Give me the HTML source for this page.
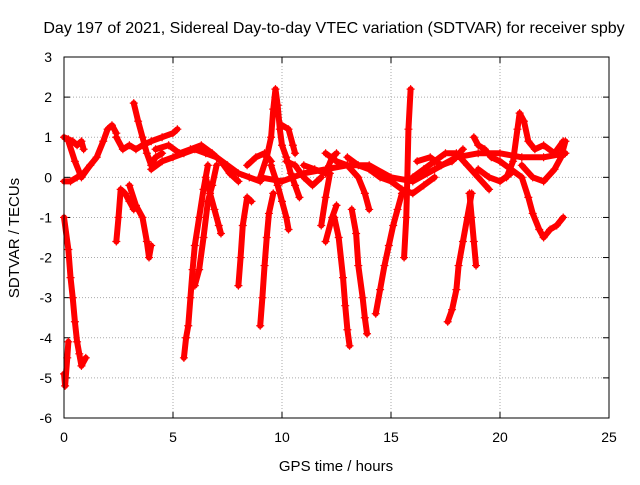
<!DOCTYPE html>
<html><head><meta charset="utf-8"><style>
body{margin:0;background:#fff}
svg text{font-family:"Liberation Sans",sans-serif;fill:#000}
</style></head><body>
<svg id="c" width="640" height="480">
<text x="334" y="33" font-size="16" text-anchor="middle">Day 197 of 2021, Sidereal Day-to-day VTEC variation (SDTVAR) for receiver spby</text>
<text x="336" y="471" font-size="15" text-anchor="middle">GPS time / hours</text>
<text transform="translate(19,238) rotate(-90)" font-size="15" text-anchor="middle">SDTVAR / TECUs</text>
<g id="grid"></g><g id="marks"></g>
<rect x="64" y="57" width="545" height="361" fill="none" stroke="#000"/>
</svg>
<script>
const xTicks=[0,5,10,15,20,25];
const yTicks=[3,2,1,0,-1,-2,-3,-4,-5,-6];
const tracks=[
[[0,-1.0],[0.2,-1.8],[0.3,-2.5],[0.4,-3.0],[0.5,-3.6],[0.6,-4.1],[0.7,-4.4],[0.8,-4.7],[1.0,-4.5]],
[[0,-4.9],[0.05,-5.2],[0.15,-4.5],[0.2,-4.1]],
[[0,1.0],[0.2,0.95],[0.4,0.9],[0.6,0.8],[0.8,0.9],[0.9,0.7]],
[[0,-0.1],[0.3,-0.1],[0.6,0.0],[0.9,0.1],[1.2,0.3],[1.5,0.5],[1.8,0.9],[2.0,1.2],[2.2,1.3],[2.4,1.1]],
[[0.2,0.9],[0.5,0.4],[0.8,0.0],[1.2,0.3]],
[[2.4,-1.6],[2.5,-1.0],[2.6,-0.3],[2.8,-0.4],[3.0,-0.6],[3.2,-0.8]],
[[2.4,1.0],[2.7,0.7],[3.0,0.8],[3.3,0.7],[3.6,0.8],[4.0,0.9],[4.5,1.0],[5.0,1.1],[5.2,1.2]],
[[3.2,1.85],[3.4,1.4],[3.6,1.0],[3.8,0.6],[4.0,0.3],[4.2,0.5],[4.5,0.6]],
[[3.0,-0.2],[3.3,-0.7],[3.6,-1.0],[3.8,-1.6],[3.9,-2.0],[4.0,-1.7]],
[[4.0,0.2],[4.5,0.4],[5,0.5],[5.5,0.6],[6,0.7],[6.5,0.6],[7,0.5],[7.5,0.3],[8,0.1],[8.5,0.0],[9,-0.1]],
[[4.2,0.7],[4.8,0.8],[5.3,0.6],[5.8,0.7],[6.3,0.8],[6.8,0.6],[7.2,0.4],[7.6,0.1],[8.0,-0.1]],
[[5.5,-4.5],[5.6,-4.0],[5.7,-3.7],[5.8,-3.0],[5.9,-2.3],[6.0,-1.7],[6.2,-1.0],[6.4,-0.3],[6.6,0.3]],
[[6.0,-2.7],[6.2,-2.3],[6.4,-1.5],[6.6,-0.6],[6.8,-0.2],[7.0,0.3]],
[[6.5,0.0],[6.7,-0.4],[6.9,-0.8],[7.1,-1.2],[7.2,-1.4]],
[[8.0,-2.7],[8.1,-2.0],[8.2,-1.2],[8.4,-0.5],[8.6,-0.6]],
[[8.4,0.3],[8.8,0.5],[9.2,0.6],[9.5,0.4]],
[[9.0,-3.7],[9.1,-3.0],[9.2,-2.2],[9.3,-1.5],[9.4,-0.9],[9.6,-0.4]],
[[9.0,0.0],[9.3,0.5],[9.5,1.0],[9.6,1.7],[9.7,2.2],[9.8,1.8],[9.9,1.2],[10.0,0.8],[10.2,0.5],[10.4,0.1],[10.6,-0.2],[10.8,-0.5]],
[[9.5,0.3],[9.8,-0.2],[10.0,-0.6],[10.2,-1.0],[10.3,-1.3]],
[[10,1.3],[10.3,1.2],[10.5,0.8],[10.6,0.6]],
[[10.2,0.4],[10.6,0.3],[11,0.0],[11.4,-0.2],[11.8,0.0]],
[[9,0.0],[10,-0.1],[11,0.1],[12,0.2],[13,0.3],[14,0.3],[15,0.0],[16,-0.1],[17,0.2],[18,0.5],[19,0.6],[20,0.6],[21,0.5],[22,0.5],[23,0.6]],
[[11,0.3],[11.5,0.2],[12,0.1],[12.3,0.5],[12.5,0.6]],
[[11.8,-1.2],[12,-0.5],[12.2,0.1]],
[[12.0,-1.6],[12.3,-1.0],[12.5,-0.7]],
[[12.4,-1.0],[12.6,-1.5],[12.8,-2.5],[12.9,-3.2],[13.0,-3.8],[13.1,-4.2]],
[[12.0,0.6],[12.5,0.4],[13,0.3],[13.5,0.0],[13.8,-0.4],[14.0,-0.8]],
[[13.2,-0.8],[13.4,-1.4],[13.5,-2.2],[13.7,-3.0],[13.8,-3.5],[13.9,-3.9]],
[[14.3,-3.4],[14.5,-2.8],[14.7,-2.2],[14.9,-1.7],[15.1,-1.2],[15.3,-0.8],[15.5,-0.4]],
[[15.6,-2.0],[15.7,-1.0],[15.75,0.0],[15.8,1.2],[15.9,2.2]],
[[13,0.5],[13.5,0.3],[14,0.2],[14.5,0.0],[15,-0.1],[15.5,-0.3],[16,-0.4],[16.5,-0.2],[17,0.0]],
[[16.0,0.0],[16.5,0.2],[17,0.4],[17.5,0.6],[18,0.6],[18.5,0.3],[19,0.0],[19.5,-0.3]],
[[16.2,0.4],[16.8,0.5],[17.3,0.3],[17.8,0.4],[18.3,0.7]],
[[17.6,-3.6],[17.8,-3.3],[18.0,-2.8],[18.1,-2.2],[18.3,-1.6],[18.5,-1.0],[18.7,-0.4]],
[[18.8,1.0],[19.0,0.8],[19.3,0.7],[19.6,0.5],[20,0.4]],
[[18.6,-0.4],[18.7,-1.0],[18.8,-1.6],[18.9,-2.2]],
[[20.3,0.0],[20.6,0.4],[20.8,1.2],[20.9,1.6],[21.1,1.4],[21.3,0.9],[21.6,0.7],[22,0.8],[22.5,0.6],[22.9,0.9]],
[[20,0.4],[20.5,0.2],[21,0.0],[21.3,-0.5],[21.5,-0.9],[21.8,-1.3],[22.0,-1.5],[22.3,-1.3],[22.6,-1.2],[22.9,-1.0]],
[[21,0.3],[21.5,0.0],[22,-0.1],[22.5,0.2],[22.8,0.5],[23,0.9]],
[[19,0.2],[19.5,0.0],[20.0,-0.1],[20.5,0.1]]
];
const NS="http://www.w3.org/2000/svg";
const X=v=>64+v*(545/25), Y=v=>57+(3-v)*(361/9);
const grid=document.getElementById('grid'), marks=document.getElementById('marks');
function mk(tag,a,p){const e=document.createElementNS(NS,tag);for(const k in a)e.setAttribute(k,a[k]);p.appendChild(e);return e;}
xTicks.forEach(t=>{
 if(t>0&&t<25){const g=mk('line',{x1:X(t),x2:X(t),y1:57,y2:418,stroke:'#aaa','stroke-dasharray':'1,2'},grid);}
 mk('line',{x1:X(t),x2:X(t),y1:418,y2:412,stroke:'#000'},grid);mk('line',{x1:X(t),x2:X(t),y1:57,y2:63,stroke:'#000'},grid);
 const l=mk('text',{x:X(t),y:442,'font-size':14,'text-anchor':'middle'},grid);l.textContent=t;
 
 
});
yTicks.forEach(t=>{
 if(t<3&&t>-6){const g=mk('line',{x1:64,x2:609,y1:Y(t),y2:Y(t),stroke:'#aaa','stroke-dasharray':'1,2'},grid);}
 mk('line',{x1:64,x2:70,y1:Y(t),y2:Y(t),stroke:'#000'},grid);mk('line',{x1:603,x2:609,y1:Y(t),y2:Y(t),stroke:'#000'},grid);
 const l=mk('text',{x:52,y:Y(t)+5,'font-size':14,'text-anchor':'end'},grid);l.textContent=t;
 
 
});
tracks.forEach((tr,i)=>{
 const p=mk('polyline',{points:tr.map(d=>X(d[0])+','+Y(d[1])).join(' '),fill:'none',stroke:'#f00','stroke-width':6,'stroke-linejoin':'round','stroke-linecap':'round'},marks);
 
 
 tr.forEach(d=>{const x=X(d[0]),y=Y(d[1]);
  const m=mk('path',{d:`M${x-4},${y}H${x+4}M${x},${y-4}V${y+4}`,stroke:'#f00','stroke-width':1.2},marks);
  
  
 });
});
</script>
</body></html>
